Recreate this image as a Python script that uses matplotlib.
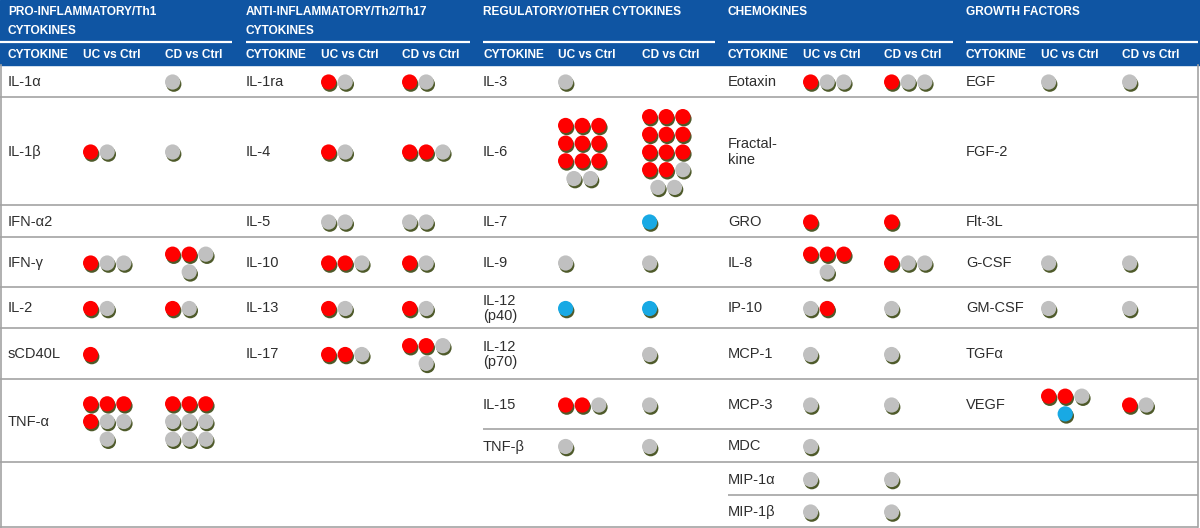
import matplotlib
matplotlib.use('Agg')
import matplotlib.pyplot as plt
from matplotlib.patches import Circle, Rectangle

# ---- data ----
# R = red, G = grey, B = blue ; '/' starts a new row of dots
group_titles = ['PRO-INFLAMMATORY/Th1\nCYTOKINES',
                'ANTI-INFLAMMATORY/Th2/Th17\nCYTOKINES',
                'REGULATORY/OTHER CYTOKINES',
                'CHEMOKINES',
                'GROWTH FACTORS']
col_titles = ['CYTOKINE', 'UC vs Ctrl', 'CD vs Ctrl']

pro_names = ['IL-1\u03b1', 'IL-1\u03b2', 'IFN-\u03b12', 'IFN-\u03b3', 'IL-2', 'sCD40L', 'TNF-\u03b1']
pro_uc = ['', 'RG', '', 'RGG', 'RG', 'R', 'RRR/RGG/G']
pro_cd = ['G', 'G', '', 'RRG/G', 'RG', '', 'RRR/GGG/GGG']

anti_names = ['IL-1ra', 'IL-4', 'IL-5', 'IL-10', 'IL-13', 'IL-17']
anti_uc = ['RG', 'RG', 'GG', 'RRG', 'RG', 'RRG']
anti_cd = ['RG', 'RRG', 'GG', 'RG', 'RG', 'RRG/G']

reg_names = ['IL-3', 'IL-6', 'IL-7', 'IL-9', 'IL-12\n(p40)', 'IL-12\n(p70)', 'IL-15', 'TNF-\u03b2']
reg_uc = ['G', 'RRR/RRR/RRR/GG', '', 'G', 'B', '', 'RRG', 'G']
reg_cd = ['', 'RRR/RRR/RRR/RRG/GG', 'B', 'G', 'B', 'G', 'G', 'G']

chemo_names = ['Eotaxin', 'Fractal-\nkine', 'GRO', 'IL-8', 'IP-10', 'MCP-1', 'MCP-3', 'MDC',
               'MIP-1\u03b1', 'MIP-1\u03b2']
chemo_uc = ['RGG', '', 'R', 'RRR/G', 'GR', 'G', 'G', 'G', 'G', 'G']
chemo_cd = ['RGG', '', 'R', 'RGG', 'G', 'G', 'G', '', 'G', 'G']

growth_names = ['EGF', 'FGF-2', 'Flt-3L', 'G-CSF', 'GM-CSF', 'TGF\u03b1', 'VEGF']
growth_uc = ['G', '', '', 'G', 'G', '', 'RRG/B']
growth_cd = ['G', '', '', 'G', 'G', '', 'RG']

groups = [(pro_names, pro_uc, pro_cd),
          (anti_names, anti_uc, anti_cd),
          (reg_names, reg_uc, reg_cd),
          (chemo_names, chemo_uc, chemo_cd),
          (growth_names, growth_uc, growth_cd)]

# ---- layout (pixels, figure is 1200x528) ----
W, H = 1200, 528
HEAD_H = 65
BLUE = '#0f55a3'
LINE_C = '#a3a3a3'
TXT_C = '#2e2e2e'
DOT_C = {'R': '#ff0000', 'G': '#c0c0c0', 'B': '#18a9e4'}
SHADOW_C = '#4e5a2a'
RAD = 7.6
DX, DY = 16.6, 17.7

col_x = [(8, 83, 165), (246, 321, 402), (483, 558, 642), (728, 803, 884), (966, 1041, 1122)]
underline = [(0, 232), (246, 470), (483, 715), (728, 953), (966, 1198)]
base_edges = [65, 97, 205, 237, 287, 328, 379]
row_edges = [base_edges + [462],
             base_edges,
             base_edges + [429, 462],
             base_edges + [429, 462, 495, 527],
             base_edges + [429]]
hlines = [(97, 0, 1198), (205, 0, 1198), (237, 0, 1198), (287, 0, 1198), (328, 0, 1198),
          (379, 0, 1198), (429, 483, 1198), (462, 0, 1198), (495, 728, 1198), (527, 0, 1198)]

plt.rcParams['font.family'] = ['Liberation Sans', 'DejaVu Sans']

fig = plt.figure(figsize=(12, 5.28), dpi=100)
ax = fig.add_axes([0, 0, 1, 1])
ax.set_xlim(0, W)
ax.set_ylim(H, 0)
ax.axis('off')

# header band
ax.add_patch(Rectangle((0, 0), W, HEAD_H, color=BLUE, zorder=0))

for g, title in enumerate(group_titles):
    x_name = col_x[g][0]
    for k, line in enumerate(title.split('\n')):
        ax.text(x_name, 12 + k * 19, line, color='white', fontsize=8.6, fontweight='bold',
                ha='left', va='center')
    u0, u1 = underline[g]
    ax.plot([u0, u1], [42, 42], color='white', lw=1.6, solid_capstyle='butt')
    for c, ct in enumerate(col_titles):
        ax.text(col_x[g][c], 54.5, ct, color='white', fontsize=8.6, fontweight='bold',
                ha='left', va='center')

# table grid
for y, x0, x1 in hlines:
    ax.plot([x0, x1], [y, y], color=LINE_C, lw=1.2, solid_capstyle='butt')
ax.plot([1, 1], [HEAD_H, 527], color=LINE_C, lw=1.2)
ax.plot([1198, 1198], [HEAD_H, 527], color=LINE_C, lw=1.2)


def draw_dots(x0, yc, code):
    if code == '':
        return
    rows = code.split('/')
    n = len(rows)
    widest = max(len(r) for r in rows)
    for i, r in enumerate(rows):
        y = yc + (i - (n - 1) / 2.0) * DY
        off = (widest - len(r)) / 2.0
        for j, c in enumerate(r):
            x = x0 + RAD + (off + j) * DX
            # small drop shadow under every dot
            ax.add_patch(Circle((x + 1.2, y + 2.2), RAD, color=SHADOW_C, lw=0, zorder=3))
            ax.add_patch(Circle((x, y), RAD, color=DOT_C[c], lw=0, zorder=3))


for g, (names, uc, cd) in enumerate(groups):
    edges = row_edges[g]
    for i, name in enumerate(names):
        yc = (edges[i] + edges[i + 1]) / 2.0 + 1
        ax.text(col_x[g][0], yc, name, color=TXT_C, fontsize=10.5, ha='left', va='center',
                linespacing=1.15)
        draw_dots(col_x[g][1], yc, uc[i])
        draw_dots(col_x[g][2], yc, cd[i])

fig.savefig('out.png', dpi=100)
